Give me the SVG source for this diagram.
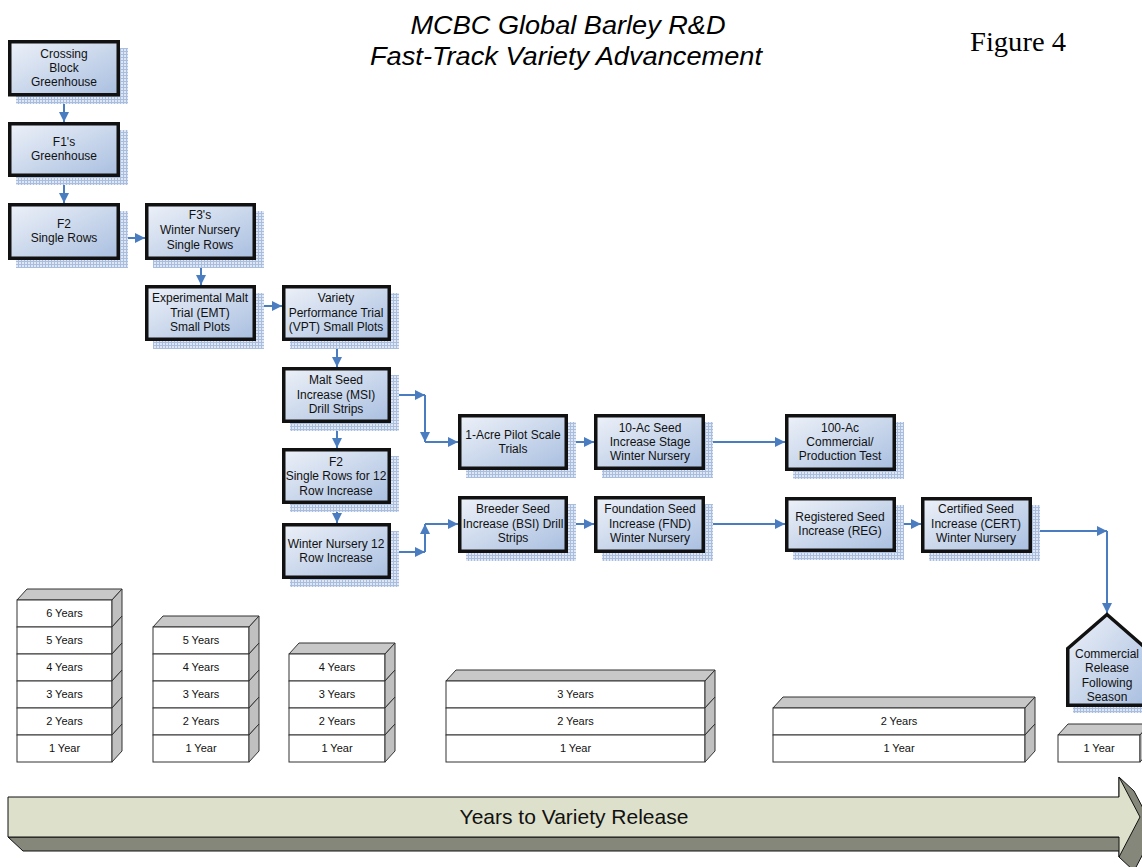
<svg xmlns="http://www.w3.org/2000/svg" width="1142" height="867" viewBox="0 0 1142 867">
<defs>
<linearGradient id="ng" x1="0" y1="0" x2="1" y2="1">
<stop offset="0" stop-color="#EDF1F8"/>
<stop offset="1" stop-color="#A9BFE0"/>
</linearGradient>
<pattern id="hatch" width="3" height="3" patternUnits="userSpaceOnUse">
<rect width="3" height="3" fill="#DFE7F4"/>
<rect width="3" height="1" fill="#A9BEDF"/>
<rect width="1" height="3" fill="#A9BEDF"/>
</pattern>
<marker id="ah" viewBox="0 0 10 10" refX="10" refY="5" markerWidth="10" markerHeight="11" markerUnits="userSpaceOnUse" orient="auto">
<path d="M0,0 L10,5 L0,10 z" fill="#4A7DC0"/>
</marker>
<style>
.box{fill:url(#ng);stroke:#111;stroke-width:3.5}
.sh{fill:url(#hatch)}
.t{font-family:"Liberation Sans",Arial,sans-serif;font-size:12px;fill:#111;text-anchor:middle}
.c{fill:none;stroke:#4A7DC0;stroke-width:2;marker-end:url(#ah)}
.fr{fill:#fff;stroke:#333;stroke-width:1}
.sd{fill:#C0C0C0;stroke:#333;stroke-width:1}
.tp{fill:#C8C8C8;stroke:#333;stroke-width:1}
.st{font-family:"Liberation Sans",Arial,sans-serif;font-size:11px;fill:#111;text-anchor:middle}
</style>
</defs>
<rect width="1142" height="867" fill="#fff"/>

<g id="title">
<text x="568" y="34" font-family="'Liberation Sans',Arial,sans-serif" font-style="italic" font-size="25" text-anchor="middle" textLength="315" lengthAdjust="spacingAndGlyphs">MCBC Global Barley R&amp;D</text>
<text x="566" y="65" font-family="'Liberation Sans',Arial,sans-serif" font-style="italic" font-size="25" text-anchor="middle" textLength="392" lengthAdjust="spacingAndGlyphs">Fast-Track Variety Advancement</text>
<text x="1018" y="51" font-family="'Liberation Serif','Times New Roman',serif" font-size="27" text-anchor="middle" textLength="96" lengthAdjust="spacingAndGlyphs">Figure 4</text>
</g>

<g id="connectors">
<path class="c" d="M64,96 V122"/>
<path class="c" d="M64,177 V203"/>
<path class="c" d="M120,238 H145"/>
<path class="c" d="M201,260 V285"/>
<path class="c" d="M256,306 H282"/>
<path class="c" d="M337,341 V367"/>
<path class="c" d="M337,423 V448"/>
<path class="c" d="M337,504 V523"/>
<path class="c" d="M391,395 H425"/>
<path class="c" d="M425,395 V442"/>
<path class="c" d="M425,442 H458"/>
<path class="c" d="M391,552 H425"/>
<path class="c" d="M425,552 V524"/>
<path class="c" d="M425,524 H458"/>
<path class="c" d="M568,442 H594"/>
<path class="c" d="M568,524 H594"/>
<path class="c" d="M705,442 H785"/>
<path class="c" d="M705,524 H785"/>
<path class="c" d="M896,524 H921"/>
<path class="c" d="M1032,531 H1107"/>
<path class="c" d="M1107,531 V613"/>
</g>

<g id="n-crossing">
<rect class="sh" x="16" y="48" width="112" height="56"/>
<rect class="box" x="9.75" y="41.75" width="108.5" height="53"/>
<text class="t"><tspan x="64" y="58">Crossing</tspan><tspan x="64" y="72">Block</tspan><tspan x="64" y="86">Greenhouse</tspan></text>
</g>
<g id="n-f1">
<rect class="sh" x="16" y="130" width="112" height="55"/>
<rect class="box" x="9.75" y="123.75" width="108.5" height="51.5"/>
<text class="t"><tspan x="64" y="146">F1's</tspan><tspan x="64" y="160">Greenhouse</tspan></text>
</g>
<g id="n-f2">
<rect class="sh" x="16" y="211" width="112" height="57"/>
<rect class="box" x="9.75" y="204.75" width="108.5" height="53.5"/>
<text class="t"><tspan x="64" y="228">F2</tspan><tspan x="64" y="242">Single Rows</tspan></text>
</g>
<g id="n-f3">
<rect class="sh" x="153" y="211" width="111" height="57"/>
<rect class="box" x="146.75" y="204.75" width="107.5" height="53.5"/>
<text class="t"><tspan x="200" y="219">F3's</tspan><tspan x="200" y="234">Winter Nursery</tspan><tspan x="200" y="249">Single Rows</tspan></text>
</g>
<g id="n-emt">
<rect class="sh" x="153" y="293" width="111" height="56"/>
<rect class="box" x="146.75" y="286.75" width="107.5" height="52.5"/>
<text class="t"><tspan x="200" y="302">Experimental Malt</tspan><tspan x="200" y="317">Trial (EMT)</tspan><tspan x="200" y="331">Small Plots</tspan></text>
</g>
<g id="n-vpt">
<rect class="sh" x="290" y="293" width="109" height="56"/>
<rect class="box" x="283.75" y="286.75" width="105.5" height="52.5"/>
<text class="t"><tspan x="336" y="302">Variety</tspan><tspan x="336" y="317">Performance Trial</tspan><tspan x="336" y="331">(VPT) Small Plots</tspan></text>
</g>
<g id="n-msi">
<rect class="sh" x="290" y="375" width="109" height="56"/>
<rect class="box" x="283.75" y="368.75" width="105.5" height="52.5"/>
<text class="t"><tspan x="336" y="384">Malt Seed</tspan><tspan x="336" y="399">Increase (MSI)</tspan><tspan x="336" y="413">Drill Strips</tspan></text>
</g>
<g id="n-f2-12">
<rect class="sh" x="290" y="456" width="109" height="56"/>
<rect class="box" x="283.75" y="449.75" width="105.5" height="52.5"/>
<text class="t"><tspan x="336" y="466">F2</tspan><tspan x="336" y="480">Single Rows for 12</tspan><tspan x="336" y="495">Row Increase</tspan></text>
</g>
<g id="n-wn12">
<rect class="sh" x="290" y="531" width="109" height="56"/>
<rect class="box" x="283.75" y="524.75" width="105.5" height="52.5"/>
<text class="t"><tspan x="336" y="548">Winter Nursery 12</tspan><tspan x="336" y="562">Row Increase</tspan></text>
</g>
<g id="n-acre">
<rect class="sh" x="466" y="422" width="110" height="56"/>
<rect class="box" x="459.75" y="415.75" width="106.5" height="52.5"/>
<text class="t"><tspan x="513" y="439">1-Acre Pilot Scale</tspan><tspan x="513" y="453">Trials</tspan></text>
</g>
<g id="n-10ac">
<rect class="sh" x="602" y="422" width="111" height="56"/>
<rect class="box" x="595.75" y="415.75" width="107.5" height="52.5"/>
<text class="t"><tspan x="650" y="432">10-Ac Seed</tspan><tspan x="650" y="446">Increase Stage</tspan><tspan x="650" y="460">Winter Nursery</tspan></text>
</g>
<g id="n-bsi">
<rect class="sh" x="466" y="504" width="110" height="57"/>
<rect class="box" x="459.75" y="497.75" width="106.5" height="53.5"/>
<text class="t"><tspan x="513" y="513">Breeder Seed</tspan><tspan x="513" y="528">Increase (BSI) Drill</tspan><tspan x="513" y="542">Strips</tspan></text>
</g>
<g id="n-fnd">
<rect class="sh" x="602" y="504" width="111" height="57"/>
<rect class="box" x="595.75" y="497.75" width="107.5" height="53.5"/>
<text class="t"><tspan x="650" y="513">Foundation Seed</tspan><tspan x="650" y="528">Increase (FND)</tspan><tspan x="650" y="542">Winter Nursery</tspan></text>
</g>
<g id="n-100ac">
<rect class="sh" x="793" y="422" width="111" height="57"/>
<rect class="box" x="786.75" y="415.75" width="107.5" height="53.5"/>
<text class="t"><tspan x="840" y="432">100-Ac</tspan><tspan x="840" y="446">Commercial/</tspan><tspan x="840" y="460">Production Test</tspan></text>
</g>
<g id="n-reg">
<rect class="sh" x="793" y="505" width="111" height="55"/>
<rect class="box" x="786.75" y="498.75" width="107.5" height="51.5"/>
<text class="t"><tspan x="840" y="521">Registered Seed</tspan><tspan x="840" y="535">Increase (REG)</tspan></text>
</g>
<g id="n-cert">
<rect class="sh" x="929" y="505" width="111" height="56"/>
<rect class="box" x="922.75" y="498.75" width="107.5" height="52.5"/>
<text class="t"><tspan x="976" y="513">Certified Seed</tspan><tspan x="976" y="528">Increase (CERT)</tspan><tspan x="976" y="542">Winter Nursery</tspan></text>
</g>
<g id="n-release">
<rect class="sh" x="1073" y="707" width="76" height="6"/>
<polygon class="box" points="1067.75,648.5 1107,614.5 1146,648.5 1146,705.25 1067.75,705.25"/>
<text class="t"><tspan x="1107" y="658">Commercial</tspan><tspan x="1107" y="672">Release</tspan><tspan x="1107" y="687">Following</tspan><tspan x="1107" y="701">Season</tspan></text>
</g>

<g id="stack1">
<polygon class="tp" points="17,600 27,589 122,589 112,600"/>
<rect class="fr" x="17" y="600" width="95" height="27"/><polygon class="sd" points="112,600 122,589 122,616 112,627"/><text class="st" x="64.5" y="617">6 Years</text>
<rect class="fr" x="17" y="627" width="95" height="27"/><polygon class="sd" points="112,627 122,616 122,643 112,654"/><text class="st" x="64.5" y="644">5 Years</text>
<rect class="fr" x="17" y="654" width="95" height="27"/><polygon class="sd" points="112,654 122,643 122,670 112,681"/><text class="st" x="64.5" y="671">4 Years</text>
<rect class="fr" x="17" y="681" width="95" height="27"/><polygon class="sd" points="112,681 122,670 122,697 112,708"/><text class="st" x="64.5" y="698">3 Years</text>
<rect class="fr" x="17" y="708" width="95" height="27"/><polygon class="sd" points="112,708 122,697 122,724 112,735"/><text class="st" x="64.5" y="725">2 Years</text>
<rect class="fr" x="17" y="735" width="95" height="27"/><polygon class="sd" points="112,735 122,724 122,751 112,762"/><text class="st" x="64.5" y="752">1 Year</text>
</g>
<g id="stack2">
<polygon class="tp" points="153,627 163,616 259,616 249,627"/>
<rect class="fr" x="153" y="627" width="96" height="27"/><polygon class="sd" points="249,627 259,616 259,643 249,654"/><text class="st" x="201" y="644">5 Years</text>
<rect class="fr" x="153" y="654" width="96" height="27"/><polygon class="sd" points="249,654 259,643 259,670 249,681"/><text class="st" x="201" y="671">4 Years</text>
<rect class="fr" x="153" y="681" width="96" height="27"/><polygon class="sd" points="249,681 259,670 259,697 249,708"/><text class="st" x="201" y="698">3 Years</text>
<rect class="fr" x="153" y="708" width="96" height="27"/><polygon class="sd" points="249,708 259,697 259,724 249,735"/><text class="st" x="201" y="725">2 Years</text>
<rect class="fr" x="153" y="735" width="96" height="27"/><polygon class="sd" points="249,735 259,724 259,751 249,762"/><text class="st" x="201" y="752">1 Year</text>
</g>
<g id="stack3">
<polygon class="tp" points="289,654 299,643 395,643 385,654"/>
<rect class="fr" x="289" y="654" width="96" height="27"/><polygon class="sd" points="385,654 395,643 395,670 385,681"/><text class="st" x="337" y="671">4 Years</text>
<rect class="fr" x="289" y="681" width="96" height="27"/><polygon class="sd" points="385,681 395,670 395,697 385,708"/><text class="st" x="337" y="698">3 Years</text>
<rect class="fr" x="289" y="708" width="96" height="27"/><polygon class="sd" points="385,708 395,697 395,724 385,735"/><text class="st" x="337" y="725">2 Years</text>
<rect class="fr" x="289" y="735" width="96" height="27"/><polygon class="sd" points="385,735 395,724 395,751 385,762"/><text class="st" x="337" y="752">1 Year</text>
</g>
<g id="stack4">
<polygon class="tp" points="446,681 456,670 715,670 705,681"/>
<rect class="fr" x="446" y="681" width="259" height="27"/><polygon class="sd" points="705,681 715,670 715,697 705,708"/><text class="st" x="575.5" y="698">3 Years</text>
<rect class="fr" x="446" y="708" width="259" height="27"/><polygon class="sd" points="705,708 715,697 715,724 705,735"/><text class="st" x="575.5" y="725">2 Years</text>
<rect class="fr" x="446" y="735" width="259" height="27"/><polygon class="sd" points="705,735 715,724 715,751 705,762"/><text class="st" x="575.5" y="752">1 Year</text>
</g>
<g id="stack5">
<polygon class="tp" points="773,708 783,697 1035,697 1025,708"/>
<rect class="fr" x="773" y="708" width="252" height="27"/><polygon class="sd" points="1025,708 1035,697 1035,724 1025,735"/><text class="st" x="899" y="725">2 Years</text>
<rect class="fr" x="773" y="735" width="252" height="27"/><polygon class="sd" points="1025,735 1035,724 1035,751 1025,762"/><text class="st" x="899" y="752">1 Year</text>
</g>
<g id="stack6">
<polygon class="tp" points="1058,735 1068,724 1150,724 1140,735"/>
<rect class="fr" x="1058" y="735" width="82" height="27"/><polygon class="sd" points="1140,735 1150,724 1150,751 1140,762"/><text class="st" x="1099" y="752">1 Year</text>
</g>

<g id="timeline">
<polygon points="8,837 1119,837 1119,777 1134,791 1155,831 1134,871 1119,857 1119,851 23,851" fill="#848779" stroke="#111" stroke-width="1"/>
<polygon points="8,797 1119,797 1119,777 1140,817 1119,857 1119,837 8,837" fill="#DDE0CB" stroke="#111" stroke-width="1"/>
<text x="574" y="824" font-family="'Liberation Sans',Arial,sans-serif" font-size="21" text-anchor="middle" fill="#111">Years to Variety Release</text>
</g>
</svg>
